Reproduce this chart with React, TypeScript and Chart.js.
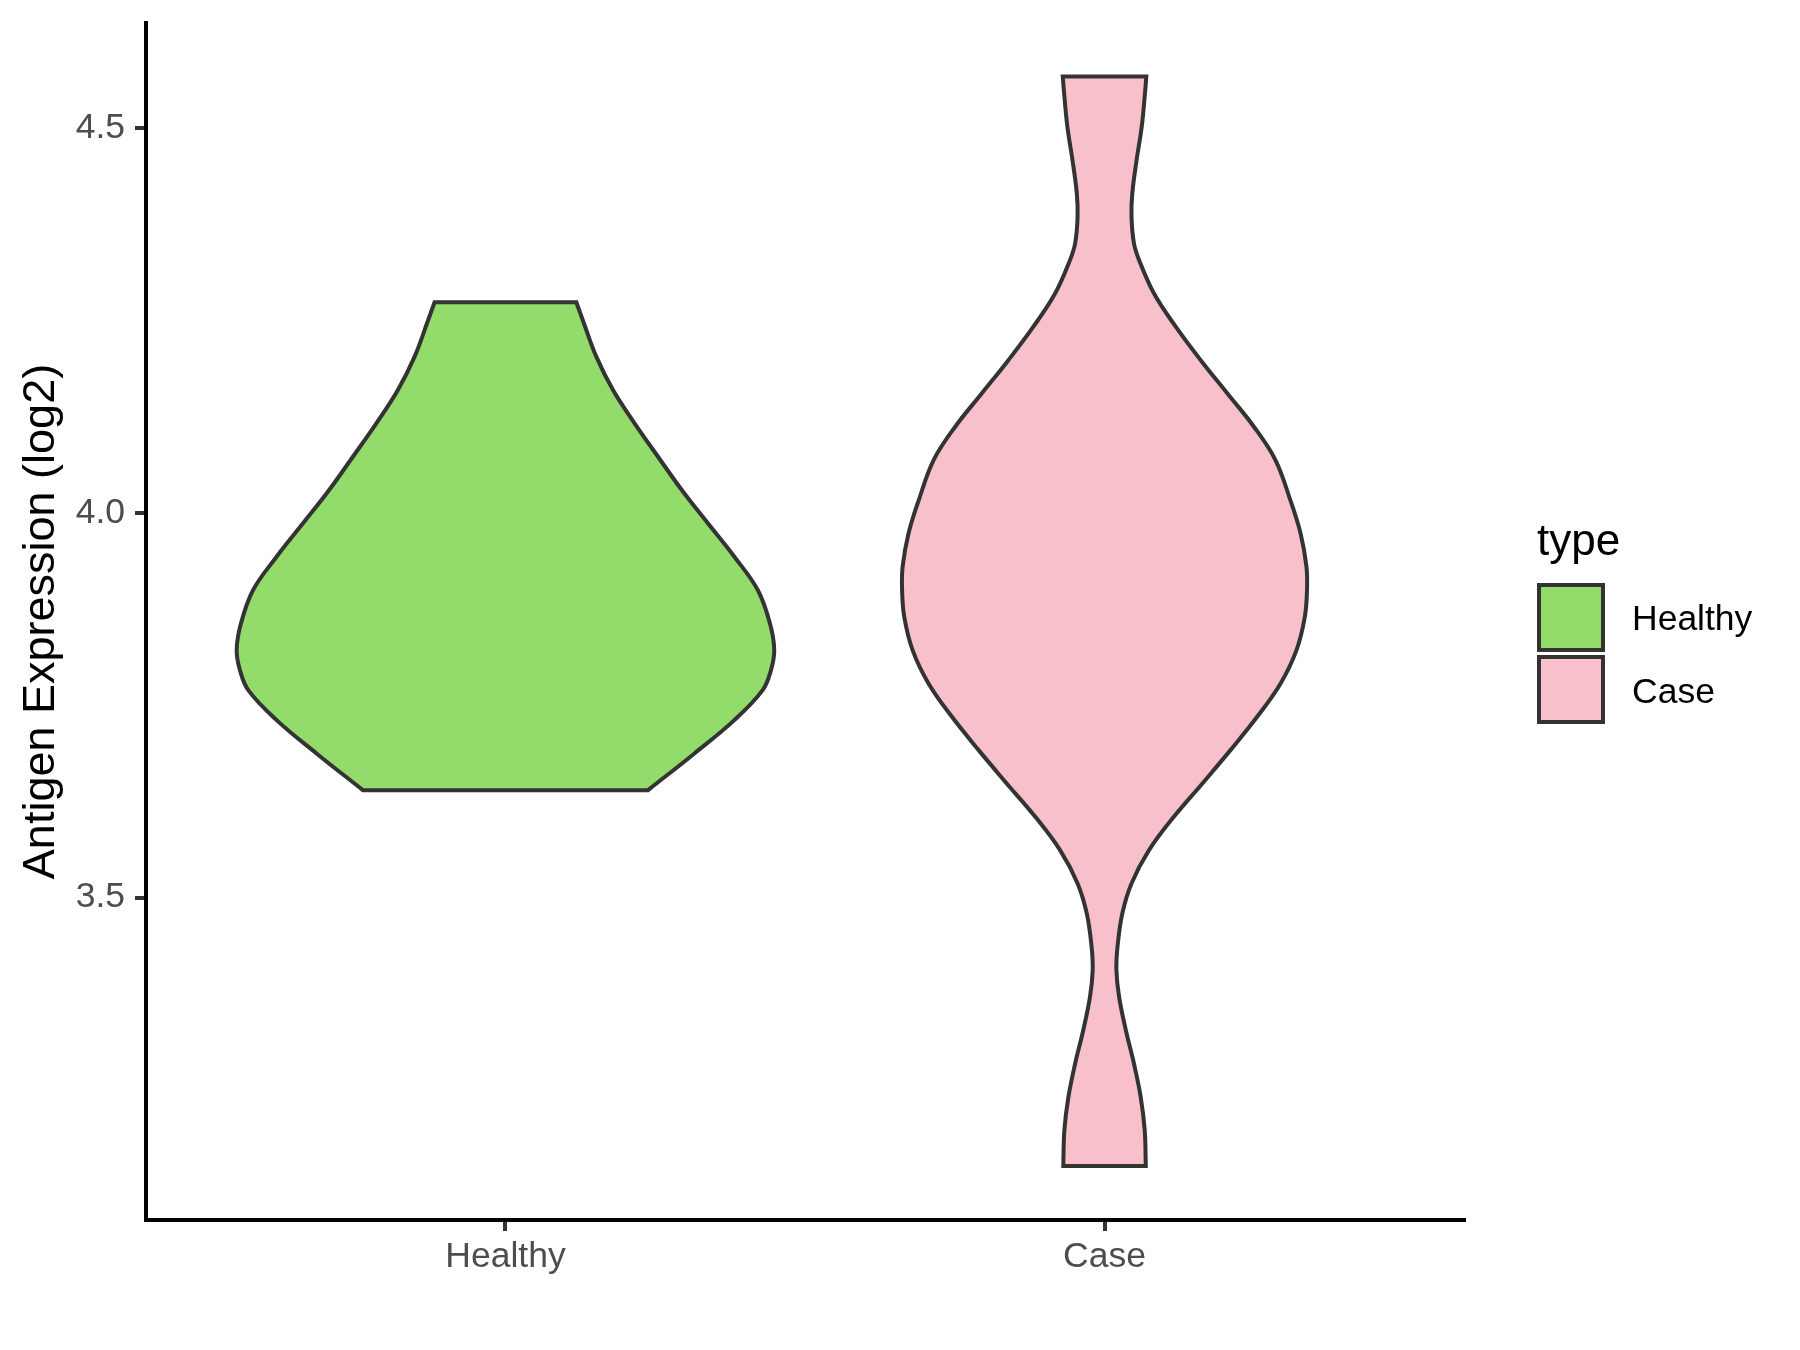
import React, { useEffect, useRef } from "react";
import { Chart, registerables } from "chart.js";

Chart.register(...registerables);

// ---------------- data ----------------
const categories = ["Healthy", "Case"];
const yTickValues = [3.5, 4.0, 4.5];
const yAxisTitle = "Antigen Expression (log2)";
const legendTitle = "type";

// violin outlines: expression values (ascending) and relative density (widest violin = 1)
const healthyValues = [
  3.6398, 3.6875, 3.7308, 3.7698, 3.7959, 3.8219, 3.8566, 3.8999, 3.9432,
  3.9866, 4.0299, 4.0732, 4.1166, 4.1599, 4.2033, 4.2467, 4.274,
];
const healthyDensity = [
  0.529, 0.701, 0.849, 0.954, 0.985, 0.997, 0.981, 0.936, 0.849, 0.751, 0.654,
  0.566, 0.479, 0.399, 0.337, 0.291, 0.263,
];

const caseValues = [
  3.1512, 3.1977, 3.241, 3.2844, 3.3277, 3.371, 3.4057, 3.436, 3.4795, 3.5185,
  3.5618, 3.6051, 3.6485, 3.6918, 3.7351, 3.7785, 3.8218, 3.8652, 3.8999,
  3.9302, 3.9736, 4.0169, 4.0689, 4.1122, 4.1557, 4.199, 4.2423, 4.2857,
  4.329, 4.3507, 4.3853, 4.4157, 4.459, 4.5023, 4.5458, 4.5674,
];
const caseDensity = [
  0.153, 0.149, 0.134, 0.109, 0.079, 0.054, 0.044, 0.048, 0.066, 0.1, 0.165,
  0.257, 0.363, 0.467, 0.566, 0.653, 0.712, 0.743, 0.751, 0.749, 0.727, 0.689,
  0.634, 0.554, 0.455, 0.356, 0.264, 0.183, 0.128, 0.109, 0.1, 0.103, 0.119,
  0.138, 0.15, 0.155,
];

// ---------------- style ----------------
const FONT = "'Liberation Sans', Arial, Helvetica, sans-serif";
const fillColors = ["#93DB6B", "#F7C0CB"];
const outlineColor = "#333333";
const VIOLIN_MAX_HALF_WIDTH = 0.45;
const Y_MIN = 3.081;
const Y_MAX = 4.637;
const X_MIN = 0.4;
const X_MAX = 2.6;

type Pt = { x: number; y: number };

function violinOutline(center: number, values: number[], density: number[]): Pt[] {
  const hw = density.map((d) => d * VIOLIN_MAX_HALF_WIDTH);
  const n = values.length;
  const pts: Pt[] = [];
  // start in the middle of the flat bottom edge
  pts.push({ x: center, y: values[0] });
  // bottom-left corner (doubled for a sharp corner)
  pts.push({ x: center - hw[0], y: values[0] });
  pts.push({ x: center - hw[0], y: values[0] });
  for (let i = 1; i < n - 1; i++) pts.push({ x: center - hw[i], y: values[i] });
  // top corners
  pts.push({ x: center - hw[n - 1], y: values[n - 1] });
  pts.push({ x: center - hw[n - 1], y: values[n - 1] });
  pts.push({ x: center + hw[n - 1], y: values[n - 1] });
  pts.push({ x: center + hw[n - 1], y: values[n - 1] });
  for (let i = n - 2; i >= 1; i--) pts.push({ x: center + hw[i], y: values[i] });
  pts.push({ x: center + hw[0], y: values[0] });
  pts.push({ x: center + hw[0], y: values[0] });
  pts.push({ x: center, y: values[0] });
  return pts;
}

const legendPlugin = {
  id: "ggLegend",
  afterDraw(chart: any) {
    const ctx = chart.ctx as CanvasRenderingContext2D;
    ctx.save();
    ctx.textAlign = "left";
    ctx.textBaseline = "alphabetic";
    ctx.fillStyle = "#000000";
    ctx.font = `44px ${FONT}`;
    ctx.fillText(legendTitle, 1537, 555);
    categories.forEach((c, i) => {
      const y = 585 + i * 72;
      ctx.fillStyle = fillColors[i];
      ctx.fillRect(1539, y, 64, 65);
      ctx.strokeStyle = outlineColor;
      ctx.lineWidth = 4;
      ctx.strokeRect(1539, y, 64, 65);
      ctx.fillStyle = "#000000";
      ctx.font = `35.5px ${FONT}`;
      ctx.fillText(c, 1632, 630 + i * 72.5);
    });
    ctx.restore();
  },
};

function zeroPadding(s: any) {
  s.paddingTop = 0;
  s.paddingBottom = 0;
  s.paddingLeft = 0;
  s.paddingRight = 0;
}

export default function App() {
  const canvasRef = useRef<HTMLCanvasElement | null>(null);

  useEffect(() => {
    if (!canvasRef.current) return;
    const groups = [
      { values: healthyValues, density: healthyDensity },
      { values: caseValues, density: caseDensity },
    ];
    const chart = new Chart(canvasRef.current, {
      type: "line",
      data: {
        datasets: groups.map((g, i) => ({
          label: categories[i],
          data: violinOutline(i + 1, g.values, g.density),
          borderColor: outlineColor,
          borderWidth: 4,
          backgroundColor: fillColors[i],
          fill: "shape",
          tension: 0.38,
          pointRadius: 0,
          pointHoverRadius: 0,
          borderJoinStyle: "miter",
        })) as any,
      },
      options: {
        animation: false,
        responsive: false,
        devicePixelRatio: 1,
        events: [],
        layout: { padding: { left: 0, top: 23, right: 336, bottom: 0 } },
        plugins: {
          legend: { display: false },
          tooltip: { enabled: false },
        },
        scales: {
          x: {
            type: "linear",
            min: X_MIN,
            max: X_MAX,
            afterBuildTicks: (s: any) => {
              s.ticks = categories.map((_, i) => ({ value: i + 1 }));
            },
            afterFit: (s: any) => {
              s.height = 130;
              zeroPadding(s);
            },
            ticks: {
              autoSkip: false,
              maxRotation: 0,
              minRotation: 0,
              padding: 5,
              color: "#4D4D4D",
              font: { family: FONT, size: 35.5 },
              callback: (v: any) => categories[Math.round(Number(v)) - 1] ?? "",
            },
            grid: {
              display: true,
              drawOnChartArea: false,
              drawTicks: true,
              tickLength: 11,
              color: outlineColor,
              lineWidth: 4,
            },
            border: { display: true, color: "#000000", width: 4 },
          },
          y: {
            type: "linear",
            min: Y_MIN,
            max: Y_MAX,
            afterBuildTicks: (s: any) => {
              s.ticks = yTickValues.map((v) => ({ value: v }));
            },
            afterFit: (s: any) => {
              s.width = 146;
              zeroPadding(s);
            },
            ticks: {
              autoSkip: false,
              padding: 10,
              color: "#4D4D4D",
              font: { family: FONT, size: 35.5 },
              callback: (v: any) => Number(v).toFixed(1),
            },
            grid: {
              display: true,
              drawOnChartArea: false,
              drawTicks: true,
              tickLength: 11,
              color: outlineColor,
              lineWidth: 4,
            },
            border: { display: true, color: "#000000", width: 4 },
            title: {
              display: true,
              text: yAxisTitle,
              color: "#000000",
              font: { family: FONT, size: 45 },
              padding: { top: 15, bottom: 0 },
            },
          },
        },
      },
      plugins: [legendPlugin],
    });
    return () => chart.destroy();
  }, []);

  return (
    <div style={{ position: "absolute", left: 0, top: 0, width: 1800, height: 1350, background: "#ffffff" }}>
      <canvas ref={canvasRef} width={1800} height={1350} style={{ display: "block" }} />
    </div>
  );
}
